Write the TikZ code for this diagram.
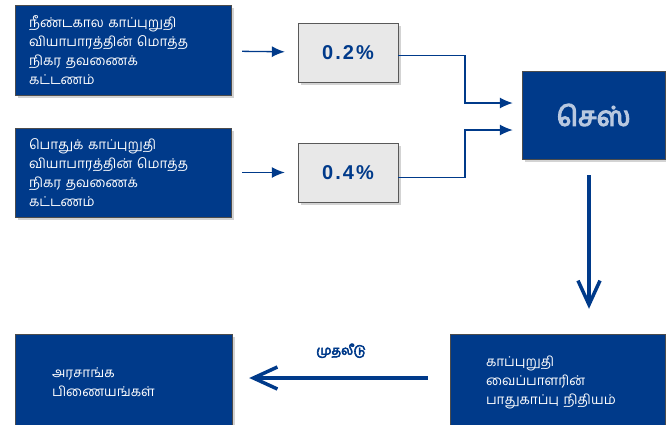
\documentclass[tikz,border=0pt]{standalone}
\usepackage{fontspec}
\usepackage{xcolor}
\usetikzlibrary{arrows.meta,shadows}
\newfontfamily\tamil[Script=Tamil,WordSpace=2.2]{Hind Madurai}
\newfontfamily\tamilbold[Script=Tamil,FakeBold=4.5]{Hind Madurai}
\newfontfamily\pctfont[LetterSpace=10]{Liberation Sans}
\definecolor{navy}{HTML}{003A8A}
\definecolor{cesstext}{HTML}{B8C8E0}
\tikzset{
  shade box/.style={drop shadow={opacity=0.35,shadow xshift=3pt,shadow yshift=-3pt}},
  bluebox/.style={shade box,draw=gray!60!black,fill=navy,text=white,font=\tamil\fontsize{13.5}{19}\selectfont,
    align=left,text width=#1,minimum height=89pt},
  pctbox/.style={shade box,draw=gray!70!black,fill=gray!18,text=navy,font=\pctfont\bfseries\fontsize{20}{22}\selectfont,
    minimum width=100pt,minimum height=59pt},
  flow/.style={navy,line width=1.3pt,-{Latex[length=13pt,width=11pt]}},
  bigflow/.style={navy,line width=3.5pt,-{Straight Barb[length=24pt,width=22pt]}}
}
\begin{document}
\begin{tikzpicture}[x=1pt,y=-1pt]
\useasboundingbox (0,0) rectangle (666,424);
\node (life) [bluebox=188pt,inner xsep=14pt,minimum height=90pt] at (123,50)
  {நீண்டகால காப்புறுதி\\வியாபாரத்தின் மொத்த\\நிகர தவணைக்\\கட்டணம்};
\node (gen) [bluebox=188pt,inner xsep=14pt] at (123,172.5)
  {பொதுக் காப்புறுதி\\வியாபாரத்தின் மொத்த\\நிகர தவணைக்\\கட்டணம்};
\node (p2) [pctbox] at (348,52.5) {0.2\%};
\node (p4) [pctbox] at (348,172.5) {0.4\%};
\node (cess) [shade box,draw=gray!60!black,fill=navy,text=cesstext,font=\tamilbold\fontsize{27}{29}\selectfont,
  minimum width=143pt,minimum height=88pt] at (593.5,115) {செஸ்};
\node (fund) [bluebox=143pt,inner xsep=36pt,minimum height=96pt] at (557.5,382)
  {காப்புறுதி\\வைப்பாளரின்\\பாதுகாப்பு நிதியம்};
\node (sec) [bluebox=143pt,inner xsep=37pt,minimum height=96pt] at (123.5,382)
  {அரசாங்க\\பிணையங்கள்};
\coordinate (j2) at (465,103);
\coordinate (j4) at (465,130);
\draw[flow,shorten <=11pt,shorten >=13pt] (life) -- (p2);
\draw[flow,shorten <=11pt,shorten >=13pt] (gen) -- (p4);
\draw[flow,shorten >=9pt] ([yshift=-3pt]p2.east) -| (j2) -- (cess.west|-j2);
\draw[flow,shorten >=9pt] ([yshift=-5pt]p4.east) -| (j4) -- (cess.west|-j4);
\draw[bigflow,shorten <=16pt,shorten >=25pt] ([xshift=-4.5pt]cess.south) -- ([xshift=-4.5pt]cess.south|-fund.north);
\draw[bigflow,shorten <=22pt,shorten >=17pt] (fund.west|-0,378) -- (sec.east|-0,378)
  node [midway,above=15pt,text=navy,font=\tamilbold\fontsize{12.5}{14}\selectfont] {முதலீடு};
\end{tikzpicture}
\end{document}
